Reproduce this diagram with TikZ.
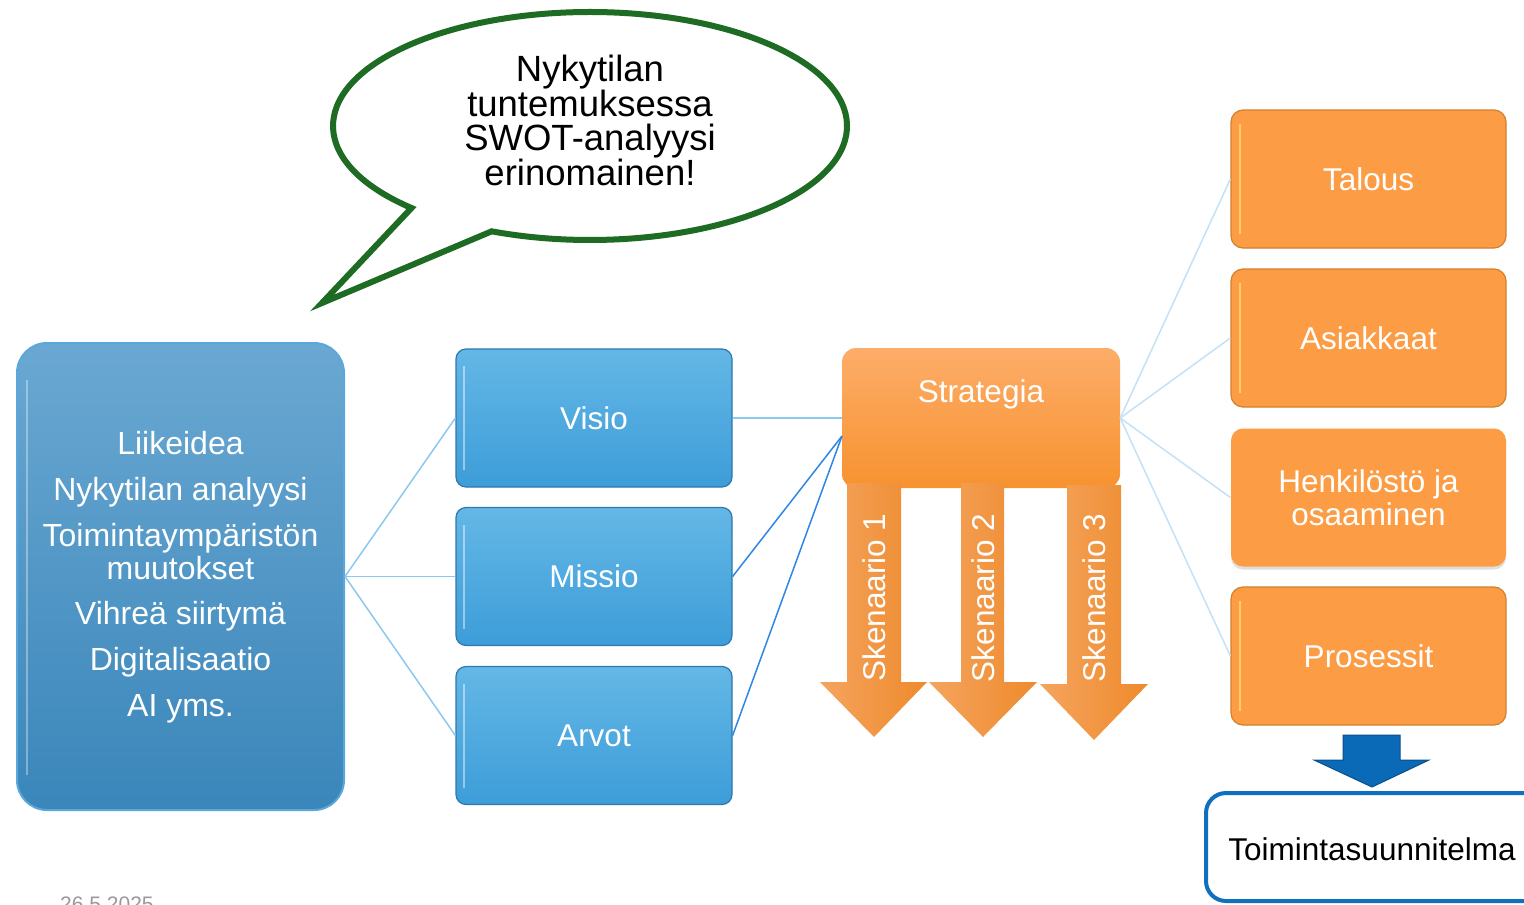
\documentclass[tikz,border=0pt]{standalone}
\usepackage{fontspec}
\setmainfont{Liberation Sans}
\usetikzlibrary{calc,shadows}
\definecolor{lbT}{HTML}{6AA8D2}
\definecolor{lbB}{HTML}{3A86BA}
\definecolor{lbE}{HTML}{5AA7DC}
\definecolor{bbT}{HTML}{64B7E6}
\definecolor{bbB}{HTML}{3D9DD8}
\definecolor{bbE}{HTML}{2E78AE}
\definecolor{orT}{HTML}{FDAD69}
\definecolor{orB}{HTML}{F7922F}
\definecolor{orF}{HTML}{FC9D45}
\definecolor{orE}{HTML}{D47F2C}
\definecolor{arL}{HTML}{F5A45E}
\definecolor{arR}{HTML}{EE8A2C}
\definecolor{lineA}{HTML}{8CC8F0}
\definecolor{lineB}{HTML}{2F86E6}
\definecolor{lineC}{HTML}{C3E2F8}
\definecolor{bubG}{HTML}{1E6B24}
\definecolor{dkBlue}{HTML}{0B6AB8}
\definecolor{dkBlueE}{HTML}{0A4F8A}
\definecolor{toimE}{HTML}{1070C0}
\definecolor{hiY}{HTML}{FFD36A}
\begin{document}
\begin{tikzpicture}[x=1pt,y=-1pt,
  txt/.style={font=\fontsize{31.5}{33}\selectfont},
  lbox/.style={rounded corners=30pt, top color=lbT, bottom color=lbB, draw=lbE, line width=2pt, inner sep=0pt},
  bbox/.style={minimum width=276pt, minimum height=138pt, rounded corners=10pt, top color=bbT, bottom color=bbB, draw=bbE, line width=1.2pt, text=white, txt, inner sep=0pt},
  sbox/.style={minimum width=278pt, minimum height=140pt, rounded corners=14pt, top color=orT, bottom color=orB, draw=none, inner sep=0pt},
  rbox/.style={minimum width=275pt, minimum height=138pt, rounded corners=12pt, fill=orF, draw=orE, line width=1.2pt, text=white, txt, align=center, inner sep=0pt},
  conA/.style={draw=lineA, line width=1.5pt},
  conB/.style={draw=lineB, line width=1.5pt},
  conC/.style={draw=lineC, line width=1.5pt},
  scen/.style={left color=arL, right color=arR},
  skt/.style={rotate=90, text=white, txt}
]
\useasboundingbox (0,0) rectangle (1524,905);
\clip (0,0) rectangle (1524,905);
\fill[white] (0,0) rectangle (1524,905);

% speech bubble
\draw[bubG, line width=6pt, fill=white, line join=miter]
  (322,303) -- (411.5,208) arc[start angle=134, end angle=472.5, x radius=257, y radius=114] -- cycle;
\node[font=\fontsize{36.5}{34}\selectfont, align=center] (bubtxt) at (590,120)
  {Nykytilan\\tuntemuksessa\\SWOT-analyysi\\erinomainen!};

% left box
\node[lbox, minimum width=327pt, minimum height=467pt] (left) at (180.5,576.5) {};
\draw[white, opacity=0.35, line width=2pt] (27,380) -- (27,775);
\node[text=white, font=\fontsize{32}{33}\selectfont, align=center] (lefttxt) at (180.5,577)
  {Liikeidea\\[13pt]Nykytilan analyysi\\[13pt]Toimintaympäristön\\muutokset\\[12pt]Vihreä siirtymä\\[13pt]Digitalisaatio\\[13pt]AI yms.};

% middle boxes
\node[bbox] (visio) at (594,418) {Visio};
\node[bbox] (missio) at (594,576.5) {Missio};
\node[bbox] (arvot) at (594,735.5) {Arvot};
\foreach \yy in {418,576.5,735.5}{
  \draw[white, opacity=0.45, line width=2pt] (464,\yy-52) -- (464,\yy+52);
}

\draw[conA] (left.east) -- (visio.west);
\draw[conA] (left.east) -- (missio.west);
\draw[conA] (left.east) -- (arvot.west);

% strategy
\node[sbox] (strat) at (981,418) {};
\node[text=white, txt] (strattxt) at (981,394) {Strategia};
\coordinate (sj) at (842,436);
\draw[conA] (visio.east) -- (strat.west);
\draw[conB] (missio.east) -- (sj);
\draw[conB] (arvot.east) -- (sj);

% scenario arrows
\shade[scen] (847,483) -- (901,483) -- (901,682) -- (927,682) -- (874,737) -- (820,682) -- (847,682) -- cycle;
\shade[scen] (961,483) -- (1004,483) -- (1004,682) -- (1037,682) -- (983,737) -- (929,682) -- (961,682) -- cycle;
\shade[scen] (1067,485) -- (1121,485) -- (1121,684) -- (1148,684) -- (1094,740) -- (1040,684) -- (1067,684) -- cycle;
\node[skt] (s1) at (874,597.5) {Skenaario 1};
\node[skt] (s2) at (983,598) {Skenaario 2};
\node[skt] (s3) at (1094.5,598) {Skenaario 3};

% right boxes
\node[rbox] (talous) at (1368.5,179) {Talous};
\node[rbox] (asiak) at (1368.5,338) {Asiakkaat};
\node[rbox, draw=none, drop shadow={opacity=0.25, shadow xshift=0pt, shadow yshift=-3pt}] (henk) at (1368.5,497.5) {Henkilöstö ja\\osaaminen};
\node[rbox] (pros) at (1368.5,656) {Prosessit};
\foreach \yy in {179,338,656}{
  \draw[hiY, opacity=0.9, line width=2.5pt] (1240,\yy-55) -- (1240,\yy+55);
}
\draw[conC] (strat.east) -- (talous.west);
\draw[conC] (strat.east) -- (asiak.west);
\draw[conC] (strat.east) -- (henk.west);
\draw[conC] (strat.east) -- (pros.west);

% down arrow and action plan
\filldraw[fill=dkBlue, draw=dkBlueE, line width=1pt] (1343,735) -- (1400,735) -- (1400,760) -- (1429,760) -- (1372,787) -- (1314,760) -- (1343,760) -- cycle;
\node[draw=toimE, line width=4pt, rounded corners=20pt, minimum width=340pt, minimum height=108pt, fill=white] (toim) at (1376,847) {};
\node[txt] (toimtxt) at (1372,849) {Toimintasuunnitelma};

% date
\node[text=gray!80, font=\fontsize{21}{21}\selectfont, anchor=base west, inner sep=0pt] (date) at (60,911) {26.5.2025};
\end{tikzpicture}
\end{document}
